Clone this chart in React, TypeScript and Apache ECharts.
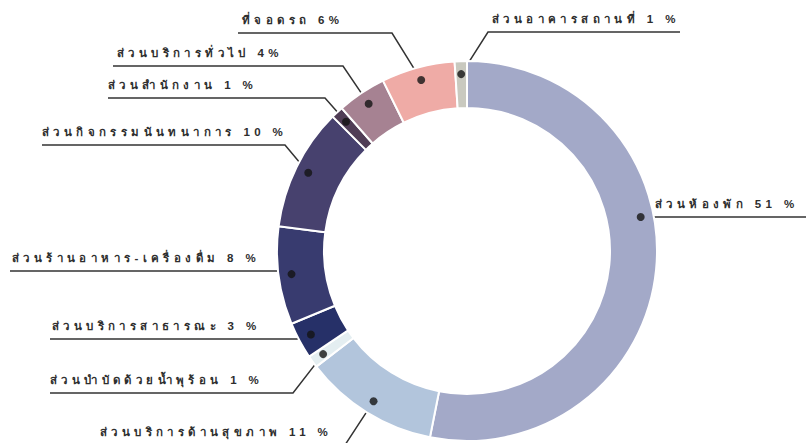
import React, { useEffect, useRef } from 'react';
import * as echarts from 'echarts';

// ---- data ----
const categories = [
  'ส่วนห้องพัก',
  'ส่วนบริการด้านสุขภาพ',
  'ส่วนบำบัดด้วยน้ำพุร้อน',
  'ส่วนบริการสาธารณะ',
  'ส่วนร้านอาหาร-เครื่องดื่ม',
  'ส่วนกิจกรรมนันทนาการ',
  'ส่วนสำนักงาน',
  'ส่วนบริการทั่วไป',
  'ที่จอดรถ',
  'ส่วนอาคารสถานที่',
];
const values = [51, 11, 1, 3, 8, 10, 1, 4, 6, 1];
const percentSep = [' ', ' ', ' ', ' ', ' ', ' ', ' ', '', '', ' '];

// ---- styles / layout ----
const colors = [
  '#A3A9C8',
  '#B2C5DC',
  '#E4EEF1',
  '#263068',
  '#383B6F',
  '#47416E',
  '#503D56',
  '#A68292',
  '#EFABA6',
  '#C9C9BF',
];
// label layout: [lineY, lineX1, lineX2, textX, side(1 right / -1 left)]
const labelLayoutCfg: number[][] = [
  [217, 643, 806, 655, 1],
  [445, 98, 345, 100, -1],
  [393, 50, 293, 50, -1],
  [339, 50, 297, 52, -1],
  [271, 10, 287, 12, -1],
  [145, 42, 285, 42, -1],
  [98, 108, 325, 108, -1],
  [66, 113, 343, 117, -1],
  [33, 238, 392, 242, -1],
  [32, 488, 680, 492, 1],
];
// angular shift (degrees) of the leader dot from the slice middle
const dotShift = [-16.7, 0, 0, 0, 0, 0, 0, 0, 0, 0];

const CX = 467;
const CY = 251;
const R_IN = 143;
const R_OUT = 190;
const R_DOT = 177;

export default function App() {
  const ref = useRef<HTMLDivElement>(null);
  useEffect(() => {
    document.body.style.margin = '0';
    if (!ref.current) return;
    const chart = echarts.init(ref.current, undefined, { renderer: 'svg' });
    const total = values.reduce((a, b) => a + b, 0);
    const dotVals: number[] = [];
    let acc = 0;
    values.forEach((v, i) => {
      dotVals.push(acc + v / 2 + (dotShift[i] / 360) * total);
      acc += v;
    });
    const dotPx = (i: number) => {
      const t = (dotVals[i] / total) * Math.PI * 2;
      return [CX + R_DOT * Math.sin(t), CY - R_DOT * Math.cos(t)];
    };
    chart.setOption({
      animation: false,
      polar: { center: [CX, CY], radius: R_OUT },
      angleAxis: {
        type: 'value',
        min: 0,
        max: total,
        startAngle: 90,
        clockwise: true,
        show: false,
      },
      radiusAxis: { type: 'value', min: 0, max: R_OUT, show: false },
      series: [
        {
          type: 'pie',
          center: [CX, CY],
          radius: [R_IN, R_OUT],
          startAngle: 90,
          clockwise: true,
          avoidLabelOverlap: false,
          data: categories.map((name, i) => ({
            name,
            value: values[i],
            itemStyle: { color: colors[i] },
          })),
          itemStyle: { borderColor: '#ffffff', borderWidth: 2 },
          label: {
            show: true,
            position: 'outside',
            formatter: (p: any) => `${p.name} ${p.value}${percentSep[p.dataIndex]}%`,
            fontFamily: 'sans-serif',
            fontSize: 11.5,
            fontWeight: 'bold',
            color: '#2e2e2e',
          },
          labelLine: {
            show: true,
            showAbove: true,
            lineStyle: { color: '#333333', width: 1.5 },
          },
          labelLayout: (params: any) => {
            const i = params.dataIndex;
            const [ly, x1, x2, tx, side] = labelLayoutCfg[i];
            const d = dotPx(i);
            const elbow = side < 0 ? [x2, ly] : [x1, ly];
            const end = side < 0 ? [x1, ly] : [x2, ly];
            return {
              x: tx,
              y: ly - 13,
              align: 'left',
              verticalAlign: 'middle',
              labelLinePoints: [d, elbow, end],
            };
          },
          emphasis: { disabled: true },
        },
        {
          type: 'scatter',
          coordinateSystem: 'polar',
          data: dotVals.map((v) => [R_DOT, v]),
          symbolSize: 8,
          itemStyle: { color: '#141414' },
          z: 10,
          silent: true,
        },
      ],
    });
    return () => chart.dispose();
  }, []);
  return (
    <div className="thai-chart">
      <style>{'.thai-chart svg text { letter-spacing: 4.4px; }'}</style>
      <div ref={ref} style={{ width: 806, height: 443 }} />
    </div>
  );
}
